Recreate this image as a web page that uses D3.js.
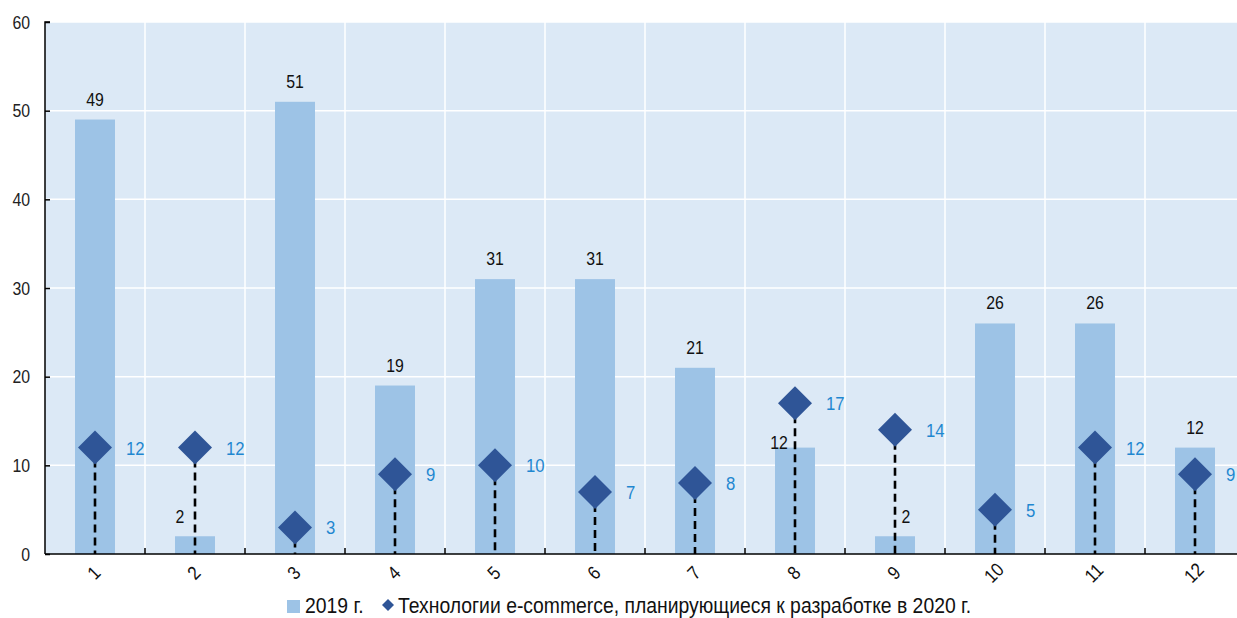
<!DOCTYPE html>
<html><head><meta charset="utf-8">
<script src="https://cdn.jsdelivr.net/npm/d3@7"></script>
<style>
body{margin:0;background:#fff;}
text{font-family:"Liberation Sans",Arial,sans-serif;}
</style></head>
<body><svg id="c" width="1237" height="618"></svg>
<script>
const categories = ["1","2","3","4","5","6","7","8","9","10","11","12"];
const values2019 = [49,2,51,19,31,31,21,12,2,26,26,12];
const planned2020 = [12,12,3,9,10,7,8,17,14,5,12,9];
const yTicks = [0,10,20,30,40,50,60];
const legendLabels = ["2019 г.", "Технологии e-commerce, планирующиеся к разработке в 2020 г."];

// label nudges (px) for bar labels that would collide with dashed lines
const barLabelDx = [0,-15,0,0,0,0,0,-16,11,0,0,0];
const barLabelDy = [0,1,0,0,0,0,0,15,1,0,0,0];

const NARROW = 0.88;
const svg = d3.select("#c");
const pLeft = 45, pRight = 1245, pTop = 22, pBottom = 554;

const x = d3.scaleBand().domain(categories).range([pLeft, pRight]).paddingInner(0).paddingOuter(0);
const y = d3.scaleLinear().domain([0,60]).range([pBottom, pTop]);
const cx = i => x(categories[i]) + x.bandwidth()/2;

function place(sel, fx, fy, rot) {
  sel.attr("transform",(d,i)=>`translate(${fx(d,i)},${fy(d,i)})${rot?` rotate(${rot})`:""} scale(${NARROW},1)`);
}

// background
svg.append("rect").attr("x",pLeft).attr("y",pTop).attr("width",pRight-pLeft).attr("height",pBottom-pTop).attr("fill","#dce9f6");

// grid
svg.append("g").selectAll("line").data(yTicks.slice(1)).join("line")
  .attr("x1",pLeft).attr("x2",pRight).attr("y1",d=>y(d)).attr("y2",d=>y(d))
  .attr("stroke","#fff").attr("stroke-width",1.5);
svg.append("g").selectAll("line").data(categories.slice(1)).join("line")
  .attr("x1",d=>x(d)).attr("x2",d=>x(d)).attr("y1",pTop).attr("y2",pBottom)
  .attr("stroke","#fff").attr("stroke-width",1.5);

// bars
const bw = 40;
svg.append("g").selectAll("rect").data(values2019).join("rect")
  .attr("x",(d,i)=>cx(i)-bw/2)
  .attr("width",bw)
  .attr("y",d=>y(d)).attr("height",d=>pBottom-y(d))
  .attr("fill","#9dc3e6");

// bar labels
svg.append("g").selectAll("text").data(values2019).join("text")
  .call(place,(d,i)=>cx(i)+barLabelDx[i],(d,i)=>y(d)-14+barLabelDy[i])
  .attr("text-anchor","middle").attr("font-size",18).attr("fill","#111")
  .text(d=>d);

// dashed lines
svg.append("g").selectAll("line").data(planned2020).join("line")
  .attr("x1",(d,i)=>cx(i)).attr("x2",(d,i)=>cx(i))
  .attr("y1",d=>y(d)+12).attr("y2",pBottom)
  .attr("stroke","#000").attr("stroke-width",2.6).attr("stroke-dasharray","8,5");

// diamonds
const ds = 17;
svg.append("g").selectAll("path").data(planned2020).join("path")
  .attr("transform",(d,i)=>`translate(${cx(i)},${y(d)})`)
  .attr("d",`M0,${-ds}L${ds},0L0,${ds}L${-ds},0Z`)
  .attr("fill","#2f5597");

// diamond labels
svg.append("g").selectAll("text").data(planned2020).join("text")
  .call(place,(d,i)=>cx(i)+31,d=>y(d)+7)
  .attr("font-size",19).attr("fill","#1f87d0")
  .text(d=>d);

// axes
const yAxis = d3.axisLeft(y).tickValues(yTicks).tickSize(-5).tickPadding(14);
const gy = svg.append("g").attr("transform",`translate(${pLeft},0)`).call(yAxis);
gy.select(".domain").attr("stroke","#000").attr("stroke-width",1.5).attr("d",`M5,${pTop}H0V${pBottom}`);
gy.selectAll(".tick line").attr("stroke","#000").attr("stroke-width",1.5);
gy.selectAll(".tick text").attr("font-size",18).attr("fill","#222")
  .attr("font-family","'Liberation Sans',Arial,sans-serif")
  .attr("x",null).attr("dy",null)
  .attr("transform",`translate(-15,6) scale(${NARROW},1)`);

svg.append("line").attr("x1",pLeft).attr("x2",pRight).attr("y1",pBottom).attr("y2",pBottom).attr("stroke","#000").attr("stroke-width",1.5);
svg.append("g").selectAll("line").data(categories.slice(1)).join("line")
  .attr("x1",d=>x(d)).attr("x2",d=>x(d)).attr("y1",pBottom-6).attr("y2",pBottom)
  .attr("stroke","#000").attr("stroke-width",1.5);

// x labels rotated
svg.append("g").selectAll("text").data(categories).join("text")
  .call(place,d=>x(d)+x.bandwidth()/2,()=>pBottom+20,-45)
  .attr("text-anchor","middle").attr("dominant-baseline","middle")
  .attr("font-size",19).attr("fill","#111")
  .text(d=>d);

// legend
const lg = svg.append("g").attr("transform","translate(0,613)");
lg.append("rect").attr("x",287).attr("y",-13).attr("width",13).attr("height",13).attr("fill","#9dc3e6");
lg.append("text").attr("transform",`translate(305,0) scale(${NARROW},1)`).attr("font-size",22).attr("fill","#111").text(legendLabels[0]);
lg.append("path").attr("transform","translate(388,-8)").attr("d","M0,-6L6,0L0,6L-6,0Z").attr("fill","#2f5597");
lg.append("text").attr("transform",`translate(398,0) scale(${NARROW},1)`).attr("font-size",22).attr("fill","#111").text(legendLabels[1]);
</script></body></html>
